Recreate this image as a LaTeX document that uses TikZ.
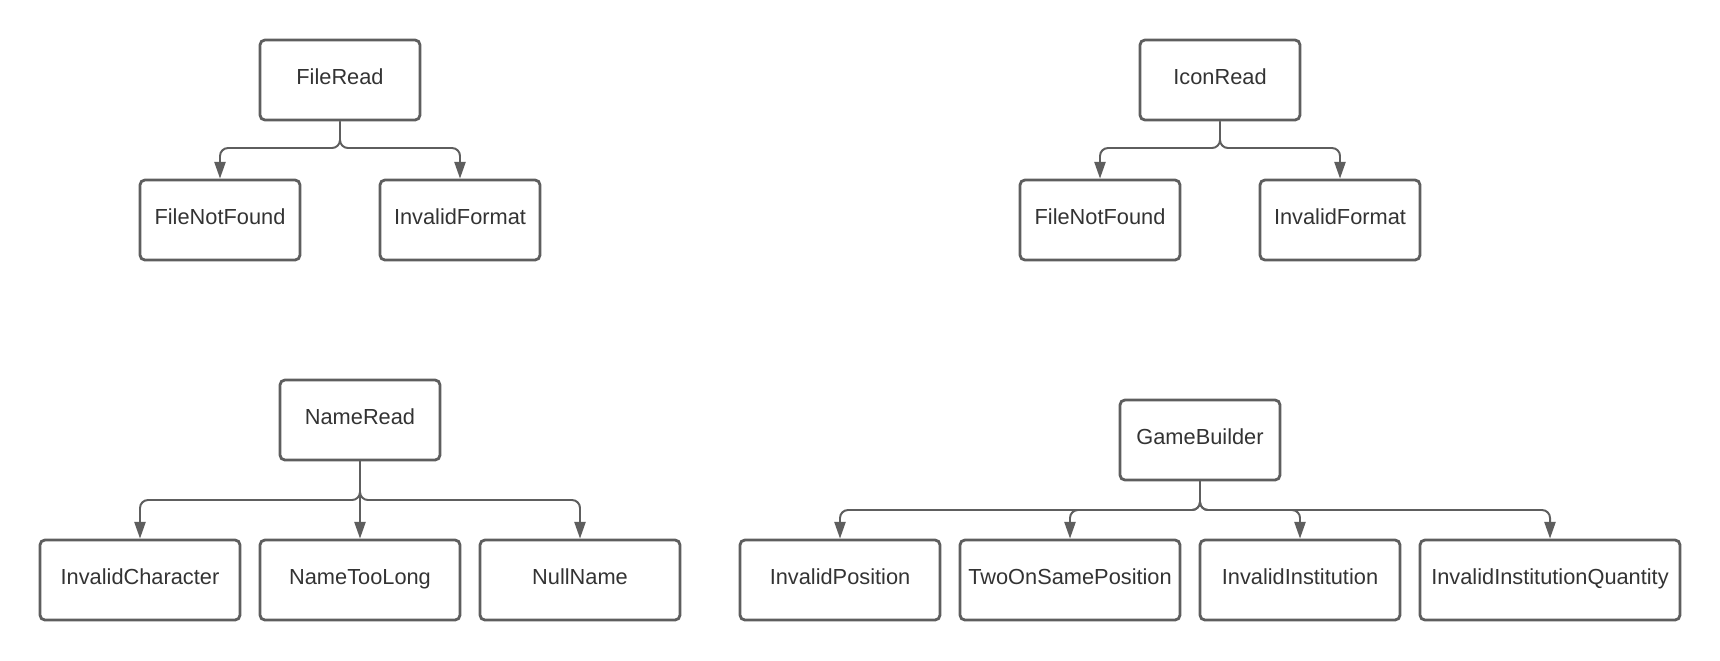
\documentclass[tikz,border=0pt]{standalone}
\usepackage{fontspec}
\setmainfont{Liberation Sans}
\usetikzlibrary{arrows.meta}
\definecolor{linegray}{RGB}{94,94,94}
\definecolor{textgray}{RGB}{51,51,51}

\begin{document}
\begin{tikzpicture}[
    box/.style={draw=linegray, line width=2pt, rounded corners=3.5pt, minimum height=2cm,
        minimum width=4cm, inner sep=0pt, text height=0.72em, text depth=0.12em,
        text=textgray, font=\fontsize{15.5}{18}\selectfont},
    link/.style={draw=linegray, line width=1.4pt, rounded corners=0.2cm,
        -{Triangle[length=0.42cm,width=0.28cm]}}
  ]
    \useasboundingbox (0,0) rectangle (43,-16.5);

    % Draw the FileRead tree
    \node[box] (fileread) at (8.5,-2) {FileRead};
    \node[box] (filenotfound) at (5.5,-5.5) {FileNotFound};
    \node[box] (invalidformat) at (11.5,-5.5) {InvalidFormat};
    \foreach \child in {filenotfound,invalidformat}
    \draw[link] (fileread.south) -- (fileread.south |- 0,-3.7) -| (\child.north);

    % Draw the IconRead tree
    \node[box] (iconread) at (30.5,-2) {IconRead};
    \node[box] (iconnotfound) at (27.5,-5.5) {FileNotFound};
    \node[box] (iconformat) at (33.5,-5.5) {InvalidFormat};
    \foreach \child in {iconnotfound,iconformat}
    \draw[link] (iconread.south) -- (iconread.south |- 0,-3.7) -| (\child.north);

    % Draw the NameRead tree
    \node[box] (nameread) at (9,-10.5) {NameRead};
    \node[box, minimum width=5cm] (invalidchar) at (3.5,-14.5) {InvalidCharacter};
    \node[box, minimum width=5cm] (nametoolong) at (9,-14.5) {NameTooLong};
    \node[box, minimum width=5cm] (nullname) at (14.5,-14.5) {NullName};
    \foreach \child in {invalidchar,nametoolong,nullname}
    \draw[link] (nameread.south) -- (nameread.south |- 0,-12.5) -| (\child.north);

    % Draw the GameBuilder tree
    \node[box] (gamebuilder) at (30,-11) {GameBuilder};
    \node[box, minimum width=5cm] (invalidpos) at (21,-14.5) {InvalidPosition};
    \node[box, minimum width=5.5cm] (twoonsame) at (26.75,-14.5) {TwoOnSamePosition};
    \node[box, minimum width=5cm] (invalidinst) at (32.5,-14.5) {InvalidInstitution};
    \node[box, minimum width=6.5cm] (instquantity) at (38.75,-14.5) {InvalidInstitutionQuantity};
    \foreach \child in {invalidpos,twoonsame,invalidinst,instquantity}
    \draw[link] (gamebuilder.south) -- (gamebuilder.south |- 0,-12.75) -| (\child.north);
  \end{tikzpicture}
\end{document}
